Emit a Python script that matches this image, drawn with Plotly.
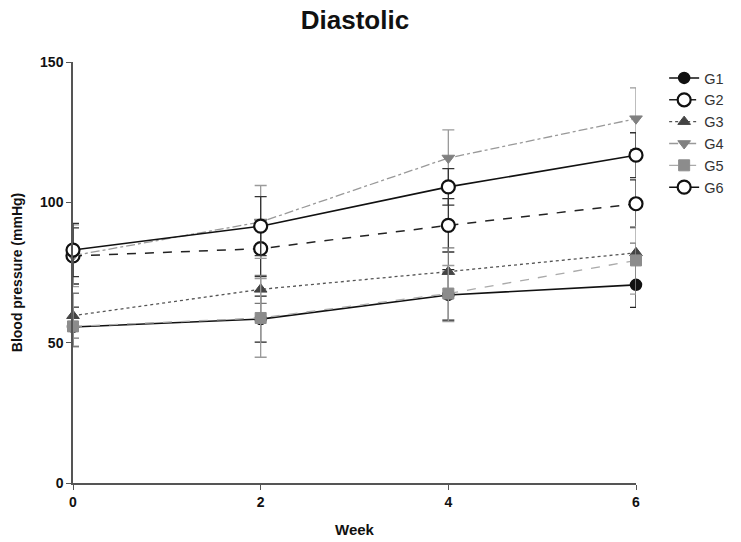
import plotly.graph_objects as go

weeks = [0, 2, 4, 6]

g1 = [55.6, 58.4, 67.0, 70.6]
g2 = [80.9, 83.5, 91.8, 99.5]
g3 = [59.6, 69.0, 75.3, 82.0]
g4 = [81.0, 93.0, 115.8, 129.8]
g5 = [55.8, 58.8, 67.5, 79.3]
g6 = [83.0, 91.5, 105.5, 116.8]

g1_err = [7.0, 8.2, 9.0, 8.0]
g2_err = [10.0, 10.0, 9.5, 8.5]
g3_err = [8.0, 5.0, 8.5, 3.5]
g4_err = [11.0, 13.0, 10.0, 11.0]
g5_err = [7.0, 14.0, 10.0, 12.0]
g6_err = [9.5, 10.5, 6.5, 8.0]

series = [
    ("G1", g1, g1_err, dict(color="#111111", dash="solid", width=1.6),
     dict(symbol="circle", color="#111111", size=11, line=dict(color="#111111", width=1.5)), "#222222"),
    ("G2", g2, g2_err, dict(color="#222222", dash="dash", width=1.5),
     dict(symbol="circle", color="white", size=13, line=dict(color="#111111", width=2.2)), "#333333"),
    ("G3", g3, g3_err, dict(color="#555555", dash="dot", width=1.3),
     dict(symbol="triangle-up", color="#444444", size=11, line=dict(color="#444444", width=1)), "#777777"),
    ("G4", g4, g4_err, dict(color="#999999", dash="dashdot", width=1.3),
     dict(symbol="triangle-down", color="#808080", size=11, line=dict(color="#808080", width=1)), "#9a9a9a"),
    ("G5", g5, g5_err, dict(color="#aaaaaa", dash="dash", width=1.3),
     dict(symbol="square", color="#8c8c8c", size=11, line=dict(color="#8c8c8c", width=1)), "#9a9a9a"),
    ("G6", g6, g6_err, dict(color="#111111", dash="solid", width=1.6),
     dict(symbol="circle", color="white", size=13, line=dict(color="#111111", width=2.2)), "#333333"),
]

fig = go.Figure()
for name, vals, errs, line, marker, ecolor in series:
    fig.add_trace(go.Scatter(
        x=weeks, y=vals, name=name, mode="lines+markers",
        line=line, marker=marker, cliponaxis=False,
        error_y=dict(type="data", array=errs, visible=True,
                     color=ecolor, thickness=1.3, width=6),
    ))

axis_font = dict(family="Liberation Sans, Arial, sans-serif", size=14, color="#111111")

fig.update_layout(
    width=741, height=542,
    margin=dict(l=73, r=105, t=62, b=59, autoexpand=False),
    paper_bgcolor="white", plot_bgcolor="white",
    font=dict(family="Liberation Sans, Arial, sans-serif", color="#111111"),
    title=dict(text="<b>Diastolic</b>", x=0.479, xanchor="center", y=0.963, yanchor="middle",
               font=dict(size=26, family="Liberation Sans, Arial, sans-serif", color="#111111")),
    legend=dict(x=1.05, y=1.0, xanchor="left", yanchor="top",
                font=dict(size=14.5, family="Liberation Sans, Arial, sans-serif", color="#333333"),
                bgcolor="rgba(0,0,0,0)", tracegroupgap=0, itemwidth=30),
    xaxis=dict(range=[0, 6], tickvals=weeks, ticktext=["<b>%d</b>" % w for w in weeks],
               showgrid=False, zeroline=False, showline=True, linecolor="#555555", linewidth=1.5,
               ticks="outside", ticklen=5, tickcolor="#555555", tickwidth=1.3,
               tickfont=axis_font, automargin=False,
               title=dict(text="<b>Week</b>", font=dict(size=15), standoff=16)),
    yaxis=dict(range=[0, 150], tickvals=[0, 50, 100, 150],
               ticktext=["<b>0</b>", "<b>50</b>", "<b>100</b>", "<b>150</b>"],
               showgrid=False, zeroline=False, showline=True, linecolor="#555555", linewidth=1.5,
               ticks="outside", ticklen=5, tickcolor="#555555", tickwidth=1.3,
               tickfont=axis_font, automargin=False,
               title=dict(text="<b>Blood pressure (mmHg)</b>", font=dict(size=14), standoff=14)),
)

fig.write_html("out.html")
